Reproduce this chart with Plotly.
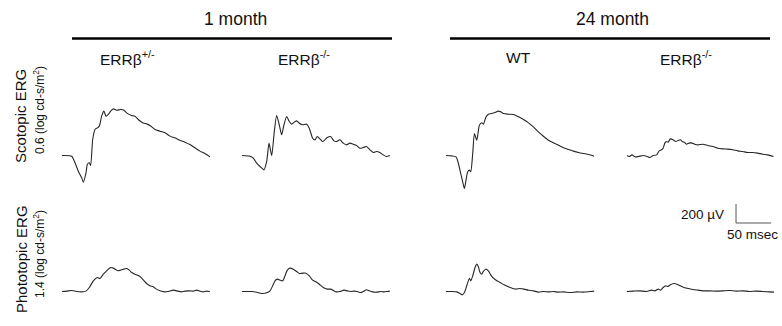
import plotly.graph_objects as go

# ---------------- data (time in msec, amplitude in µV) ----------------
# Scotopic ERG, 1 month ERRβ+/-
T_SCO_1M_HET = [0, 14.2, 18.9, 23.6, 28.4, 30.7, 34.5, 36.4, 39.2, 41.1, 44.0, 47.3, 50.6, 53.4, 56.7, 60.0, 62.9,
                66.2, 69.5, 73.3, 78.0, 83.7, 88.4, 92.2, 99.3, 104.0, 108.7, 114.9, 120.6, 125.3, 132.4, 139.5,
                146.6, 153.7, 160.8, 167.8, 174.9, 182.0, 189.1, 196.2, 203.3, 210.4]
V_SCO_1M_HET = [0, -7, -77, -165, -235, -281, -182, -95, -77, -105, 168, 274, 291, 309, 414, 467, 414,
                432, 467, 491, 477, 484, 477, 449, 421, 414, 379, 344, 333, 316, 274, 256,
                239, 204, 186, 161, 140, 116, 81, 46, 21, -14]
# Scotopic ERG, 1 month ERRβ-/-
T_SCO_1M_KO = [0, 11.8, 16.5, 21.3, 26.0, 31.7, 35.5, 38.8, 42.6, 46.3, 49.6, 53.4, 56.7, 60.0, 63.8, 67.6, 70.9,
               74.7, 78.0, 81.8, 86.5, 92.2, 96.0, 100.7, 104.0, 107.3, 111.1, 114.9, 118.2, 121.5, 126.2, 131.0,
               134.7, 139.5, 144.2, 148.9, 153.7, 158.4, 163.1, 167.8, 172.6, 177.3, 182.0, 186.8, 191.5, 196.2,
               200.9, 205.7, 210.4]
V_SCO_1M_KO = [0, -7, -28, -81, -116, -151, -63, 130, 0, 253, 421, 323, 218, 323, 411, 358, 330,
               351, 365, 340, 323, 330, 288, 182, 165, 200, 175, 147, 165, 189, 200, 154,
               147, 165, 130, 112, 130, 119, 105, 77, 84, 95, 60, 32, 42, 32,
               7, -11, 0]
# Scotopic ERG, 24 month WT
T_SCO_24M_WT = [0, 8.5, 14.7, 18.0, 21.3, 24.1, 26.5, 28.8, 31.2, 33.6, 35.5, 38.3, 40.7, 44.0, 47.8, 51.1, 53.4,
                57.2, 60.5, 65.2, 70.0, 74.7, 78.0, 81.8, 88.9, 96.0, 103.1, 110.2, 117.3, 124.3, 131.4, 138.5,
                145.6, 152.7, 159.8, 166.9, 174.0, 181.1, 188.2, 195.3, 202.4, 210.4]
V_SCO_24M_WT = [0, -4, -14, -84, -189, -277, -347, -260, -172, -154, -172, 21, 232, 161, 319, 344, 330,
                407, 435, 442, 453, 467, 460, 442, 435, 432, 407, 379, 344, 302, 249, 203,
                161, 133, 109, 81, 63, 46, 32, 21, 11, -7]
# Scotopic ERG, 24 month ERRβ-/-
T_SCO_24M_KO = [0, 3.8, 7.6, 11.8, 16.5, 23.6, 28.4, 33.1, 37.8, 42.6, 46.3, 49.6, 52.0, 54.4, 56.7, 59.1, 62.4,
                66.2, 70.0, 73.3, 76.6, 79.4, 82.7, 85.1, 88.9, 92.2, 96.9, 101.7, 108.7, 115.8, 122.9, 130.0,
                137.1, 144.2, 151.3, 158.4, 165.5, 172.6, 179.7, 186.8, 193.9, 201.0, 209.5]
V_SCO_24M_KO = [0, -11, 7, -14, -11, 0, -7, -21, 0, 7, 49, 60, 77, 130, 147, 140, 175,
                165, 147, 158, 165, 147, 137, 119, 130, 133, 119, 112, 119, 105, 95, 77,
                70, 67, 60, 49, 42, 32, 32, 25, 14, 7, -11]
# Photopic ERG, 1 month ERRβ+/-
T_PHO_1M_HET = [0, 7.1, 14.2, 21.3, 28.4, 34.5, 39.2, 44.9, 50.6, 54.4, 59.1, 63.8, 69.5, 73.3, 77.1, 80.4, 83.7,
                87.5, 92.2, 96.0, 99.3, 104.0, 111.1, 115.8, 120.6, 125.3, 130.0, 134.7, 139.5, 146.6, 151.3,
                158.4, 163.1, 170.2, 174.9, 182.0, 186.8, 191.5, 196.2, 200.9, 205.7, 210.4]
V_PHO_1M_HET = [0, 4, 11, 0, -4, 4, 42, 112, 147, 137, 182, 218, 253, 246, 228, 218, 225,
                235, 242, 225, 200, 182, 158, 123, 84, 60, 49, 25, 7, -4, 0,
                14, 7, -4, 4, 7, 4, 14, 4, -4, 4, 0]
# Photopic ERG, 1 month ERRβ-/-
T_PHO_1M_KO = [0, 7.1, 14.2, 21.3, 28.4, 35.5, 40.2, 44.0, 47.3, 50.6, 54.4, 58.2, 61.5, 64.8, 68.6, 73.3, 78.0,
               81.8, 86.5, 91.3, 96.0, 100.7, 105.4, 110.2, 115.8, 121.5, 126.2, 131.0, 134.7, 139.5, 145.2,
               149.9, 154.6, 159.3, 164.1, 168.8, 172.6, 177.3, 181.1, 185.8, 191.5, 197.2, 201.9, 206.6, 210.4]
V_PHO_1M_KO = [0, 0, 0, -7, -21, -14, 7, 60, 112, 130, 119, 112, 165, 225, 246, 235, 211,
               189, 193, 193, 165, 119, 102, 77, 42, 25, 25, 7, -4, 0, 14,
               7, 0, 4, 0, -11, 0, 18, 7, -4, -7, 0, -4, 0, 4]
# Photopic ERG, 24 month WT
T_PHO_24M_WT = [0, 8.5, 15.6, 20.3, 23.6, 26.5, 29.8, 33.6, 35.5, 38.3, 41.6, 44.0, 46.3, 48.7, 51.1, 53.4, 56.7,
                60.5, 63.8, 67.6, 71.4, 77.1, 82.7, 88.9, 95.0, 99.7, 105.4, 111.1, 117.3, 124.3, 131.4, 138.5,
                145.6, 152.7, 159.8, 166.9, 176.4, 185.8, 195.3, 204.7, 210.9]
V_PHO_24M_WT = [0, 0, -4, -21, -35, -11, 60, 140, 112, 165, 253, 288, 260, 200, 182, 211, 235,
                218, 175, 140, 119, 95, 70, 49, 32, 25, 32, 25, 14, 7, -7, 0,
                -4, 0, -7, -4, -11, -4, -7, 0, 4]
# Photopic ERG, 24 month ERRβ-/-
T_PHO_24M_KO = [0, 9.5, 18.9, 28.4, 35.5, 40.2, 44.9, 48.2, 52.0, 55.8, 59.1, 62.4, 67.1, 71.9, 76.6, 81.3, 87.5,
                94.6, 101.7, 108.7, 118.2, 127.7, 137.1, 146.6, 156.0, 165.5, 175.0, 184.4, 193.9, 203.4, 210.4]
V_PHO_24M_KO = [0, 4, 7, 0, 14, 7, 25, 14, 42, 60, 53, 70, 84, 77, 60, 42, 32,
                21, 14, 7, 7, 4, 7, 11, 4, 7, 0, 4, 0, -4, -7]

# Text
AGE_LABELS = ["1 month", "24 month"]
GROUP_LABELS = ["ERRβ<sup>+/-</sup>", "ERRβ<sup>-/-</sup>", "WT", "ERRβ<sup>-/-</sup>"]
ROW_LABELS = ["Scotopic ERG", "Phototopic ERG"]
ROW_SUBLABELS = ["0.6 (log cd-s/m<sup>2</sup>)", "1.4 (log cd-s/m<sup>2</sup>)"]
SCALE_UV = 200
SCALE_MS = 50
SCALE_UV_LABEL = "200 µV"
SCALE_MS_LABEL = "50 msec"

# ---------------- layout helpers ----------------
W, H = 782, 326
FONT = "Liberation Sans, Arial, sans-serif"
TRACE_COLOR = "#262626"


def fx(p):
    return p / W


def fy(p):
    return 1 - p / H


PX_PER_UV = 0.095
T_RANGE = [0, 210.6]
COL_PX = [(61.7, 210.0), (241.7, 390.0), (445.7, 594.3), (626.7, 774.3)]
ROW_PX = [(70.0, 200.0, 155.5), (196.0, 320.0, 291.5)]  # top, bottom, baseline

series = [
    (T_SCO_1M_HET, V_SCO_1M_HET), (T_SCO_1M_KO, V_SCO_1M_KO),
    (T_SCO_24M_WT, V_SCO_24M_WT), (T_SCO_24M_KO, V_SCO_24M_KO),
    (T_PHO_1M_HET, V_PHO_1M_HET), (T_PHO_1M_KO, V_PHO_1M_KO),
    (T_PHO_24M_WT, V_PHO_24M_WT), (T_PHO_24M_KO, V_PHO_24M_KO),
]

fig = go.Figure()
layout = {}
for i, (t, v) in enumerate(series):
    r, c = divmod(i, 4)
    n = i + 1
    suffix = "" if n == 1 else str(n)
    top, bot, base = ROW_PX[r]
    x0, x1 = COL_PX[c]
    layout["xaxis" + suffix] = dict(domain=[fx(x0), fx(x1)], range=T_RANGE, visible=False,
                                    anchor="y" + suffix, fixedrange=True)
    layout["yaxis" + suffix] = dict(domain=[fy(bot), fy(top)],
                                    range=[-(bot - base) / PX_PER_UV, (base - top) / PX_PER_UV],
                                    visible=False, anchor="x" + suffix, fixedrange=True)
    fig.add_trace(go.Scatter(x=t, y=v, mode="lines", xaxis="x" + suffix, yaxis="y" + suffix,
                             line=dict(color=TRACE_COLOR, width=1.1, shape="spline", smoothing=0.6),
                             showlegend=False, hoverinfo="skip"))

# scale bar drawn in the last panel's coordinates
BAR_T = 156
BAR_V = (ROW_PX[1][2] - 223) / PX_PER_UV
fig.add_trace(go.Scatter(x=[BAR_T, BAR_T, BAR_T + SCALE_MS],
                         y=[BAR_V + SCALE_UV, BAR_V, BAR_V],
                         mode="lines", xaxis="x8", yaxis="y8",
                         line=dict(color="#555555", width=1), showlegend=False, hoverinfo="skip"))

annotations = []
shapes = []
# Age headers with rules
for label, (lx0, lx1), cx in zip(AGE_LABELS, [(72, 392), (450, 770)], [235, 612]):
    annotations.append(dict(text=label, x=fx(cx), y=fy(19), xref="paper", yref="paper",
                            showarrow=False, font=dict(size=17.5, color="#111", family=FONT),
                            xanchor="center", yanchor="middle"))
    shapes.append(dict(type="line", xref="paper", yref="paper", x0=fx(lx0), x1=fx(lx1),
                       y0=fy(38.5), y1=fy(38.5), line=dict(color="#000", width=2.6)))

for label, cx in zip(GROUP_LABELS, [127, 304, 518, 686]):
    annotations.append(dict(text=label, x=fx(cx), y=fy(58), xref="paper", yref="paper",
                            showarrow=False, font=dict(size=15.5, color="#111", family=FONT),
                            xanchor="center", yanchor="middle"))

for label, sub, cy1, cy2 in zip(ROW_LABELS, ROW_SUBLABELS, [116, 259], [110, 254]):
    annotations.append(dict(text=label, x=fx(21), y=fy(cy1), xref="paper", yref="paper",
                            showarrow=False, textangle=-90, font=dict(size=15, color="#111", family=FONT),
                            xanchor="center", yanchor="middle"))
    annotations.append(dict(text=sub, x=fx(39), y=fy(cy2), xref="paper", yref="paper",
                            showarrow=False, textangle=-90, font=dict(size=12, color="#111", family=FONT),
                            xanchor="center", yanchor="middle"))

annotations.append(dict(text=SCALE_UV_LABEL, x=fx(726), y=fy(214), xref="paper", yref="paper",
                        showarrow=False, font=dict(size=13.5, color="#111", family=FONT),
                        xanchor="right", yanchor="middle"))
annotations.append(dict(text=SCALE_MS_LABEL, x=fx(752), y=fy(234), xref="paper", yref="paper",
                        showarrow=False, font=dict(size=13.5, color="#111", family=FONT),
                        xanchor="center", yanchor="middle"))

fig.update_layout(
    width=W, height=H, margin=dict(l=0, r=0, t=0, b=0),
    paper_bgcolor="white", plot_bgcolor="rgba(0,0,0,0)",
    annotations=annotations, shapes=shapes, **layout,
)
fig.write_html("out.html", config={"displayModeBar": False},
               post_script="document.body.style.margin='0';document.body.style.overflow='hidden';")
